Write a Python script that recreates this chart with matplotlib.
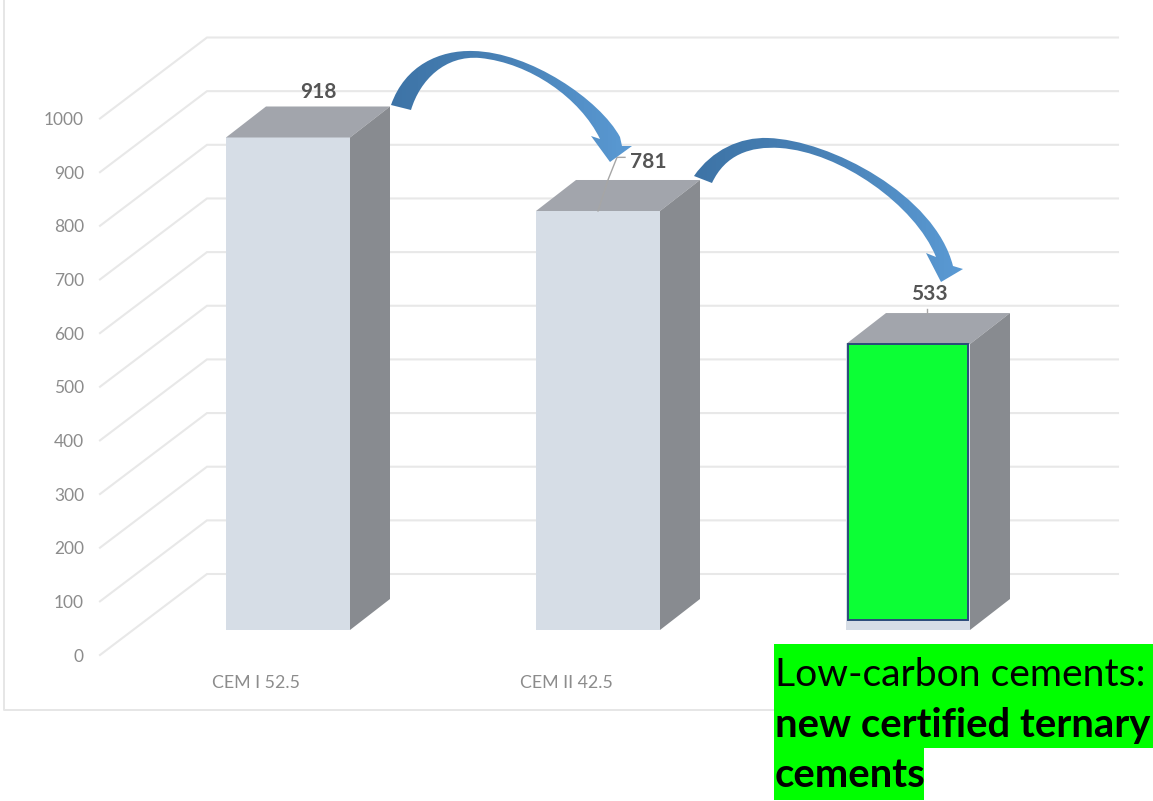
import numpy as np
import matplotlib
matplotlib.use('Agg')
import matplotlib.pyplot as plt
from matplotlib.patches import Polygon, PathPatch, Rectangle
from matplotlib.path import Path

plt.rcParams['font.family'] = ['Lato', 'DejaVu Sans']

categories = ['CEM I 52.5', 'CEM II 42.5', '']
values = [918, 781, 533]
ticks = [0, 100, 200, 300, 400, 500, 600, 700, 800, 900, 1000]
WIDTH, HEIGHT = 1153, 801

# scale of the picture: one category = 310 px, 100 units = 53.65 px
PX_X = 310.0
PX_Y = 0.5365
X0, Y0 = 288.0, 630.0


def main():
    fig = plt.figure(figsize=(WIDTH / 100, HEIGHT / 100), dpi=100)
    ax = fig.add_axes([0, 0, 1, 1])
    ax.set_xlim(-X0 / PX_X, (WIDTH - X0) / PX_X)
    ax.set_ylim((Y0 - HEIGHT) / PX_Y, Y0 / PX_Y)
    ax.axis('off')
    drawgrid(ax)
    drawbars(ax)

    ov = fig.add_axes([0, 0, 1, 1])
    ov.set_xlim(0, WIDTH)
    ov.set_ylim(HEIGHT, 0)
    ov.axis('off')
    ov.patch.set_alpha(0)
    drawframe(ov)
    drawarrow(ov, ARROW1, (386, 40, 640, 170))
    drawarrow(ov, ARROW2, (690, 130, 970, 290))
    drawnote(ov)
    fig.savefig('out.png', dpi=100)


def drawgrid(ax):
    dx_back = (207 - X0) / PX_X
    dx_right = (1118 - X0) / PX_X
    dx_front = (100 - X0) / PX_X
    up_back = (Y0 - 574) / PX_Y
    up_front = (Y0 - 655) / PX_Y
    for t in ticks:
        ax.plot([dx_front, dx_back, dx_right],
                [t + up_front, t + up_back, t + up_back],
                color='#e8e8e8', lw=1.5, zorder=1, solid_joinstyle='miter')
        ax.text(dx_front - 16 / PX_X, t + up_front - 3, str(t), ha='right', va='center',
                fontsize=12.5, color='#8c8c8c')


def drawbars(ax):
    depth_x = 40 / PX_X
    depth_y = 31 / PX_Y
    w = 0.4
    for i, v in enumerate(values):
        l, r = i - w / 2, i + w / 2
        ax.bar(i, v, width=w, color='#d6dde6', zorder=3)
        ax.add_patch(Polygon([(l, v), (r, v), (r + depth_x, v + depth_y), (l + depth_x, v + depth_y)],
                             closed=True, fc='#a2a5ac', ec='none', zorder=3))
        ax.add_patch(Polygon([(r, 0), (r, v), (r + depth_x, v + depth_y), (r + depth_x, depth_y)],
                             closed=True, fc='#888b90', ec='none', zorder=3))
        if categories[i]:
            ax.text(i - 32 / PX_X, -99, categories[i], ha='center', va='center',
                    fontsize=12.8, color='#8c8c8c')
    # third bar is painted over in green, the grey foot stays visible
    ax.bar(2, values[2] - 18, bottom=18, width=0.385, color='#0cff35', edgecolor='#2b4a7a',
           linewidth=1.4, zorder=4)

    ax.text(0 + 30 / PX_X, values[0] + 84, str(values[0]), ha='center', va='center',
            fontsize=15, fontweight='bold', color='#555555')
    ax.text(1 + 50 / PX_X, values[1] + 92, str(values[1]), ha='center', va='center',
            fontsize=15, fontweight='bold', color='#555555')
    ax.text(2 + 21 / PX_X, values[2] + 93, str(values[2]), ha='center', va='center',
            fontsize=15, fontweight='bold', color='#555555')
    # leader lines
    ax.plot([1, 1 + 10 / PX_X, 1 + 19 / PX_X, 1 + 27 / PX_X],
            [values[1], values[1] + 58, values[1] + 100, values[1] + 100],
            color='#a6a6a6', lw=1, zorder=5)
    ax.plot([2 + 19 / PX_X, 2 + 19 / PX_X], [values[2] + 57, values[2] + 65],
            color='#a6a6a6', lw=1, zorder=5)


def drawframe(ov):
    ov.plot([4, 4, 774], [0, 710, 710], color='#e6e6e6', lw=1.4, zorder=1)


ARROW1 = ([(391, 105), (405, 65), (440, 50), (473, 51), (530, 52), (600, 100), (620, 137),
           (622, 146), (632, 146), (610, 162), (591, 136), (600, 139),
           (580, 98), (530, 63), (480, 58), (445, 55), (420, 80), (411, 110), (391, 105)],
          [Path.MOVETO] + [Path.CURVE4] * 6 + [Path.LINETO] * 5 +
          [Path.CURVE4] * 6 + [Path.CLOSEPOLY])
ARROW2 = ([(694, 176), (712, 150), (740, 137), (768, 138), (830, 140), (935, 195), (953, 266),
           (963, 269), (941, 282), (926, 253), (936, 257),
           (915, 205), (840, 152), (780, 148), (750, 146), (725, 155), (712, 183), (694, 176)],
          [Path.MOVETO] + [Path.CURVE4] * 6 + [Path.LINETO] * 4 +
          [Path.CURVE4] * 6 + [Path.CLOSEPOLY])


def drawarrow(ov, arrow, box):
    x1, y1, x2, y2 = box
    patch = PathPatch(Path(arrow[0], arrow[1]), fc='none', ec='none', zorder=6)
    ov.add_patch(patch)
    grad = np.linspace(0, 1, 64).reshape(1, -1)
    cmap = matplotlib.colors.LinearSegmentedColormap.from_list('arrow', ['#3d73a6', '#4a83b8', '#5b9bd5'])
    im = ov.imshow(grad, extent=(x1, x2, y2, y1), cmap=cmap, aspect='auto', zorder=6)
    im.set_clip_path(patch)
    ov.set_xlim(0, WIDTH)
    ov.set_ylim(HEIGHT, 0)


def drawnote(ov):
    ov.add_patch(Rectangle((774, 644), 379, 104, fc='#00ff00', ec='none', zorder=7))
    ov.add_patch(Rectangle((774, 748), 150, 52, fc='#00ff00', ec='none', zorder=7))
    ov.text(775, 686, 'Low-carbon cements:', fontsize=28.2, color='black', va='baseline', zorder=8)
    ov.text(775, 737, 'new certified ternary', fontsize=28.8, fontweight='bold', color='black',
            va='baseline', zorder=8)
    ov.text(775, 787, 'cements', fontsize=28.8, fontweight='bold', color='black',
            va='baseline', zorder=8)


if __name__ == '__main__':
    main()
